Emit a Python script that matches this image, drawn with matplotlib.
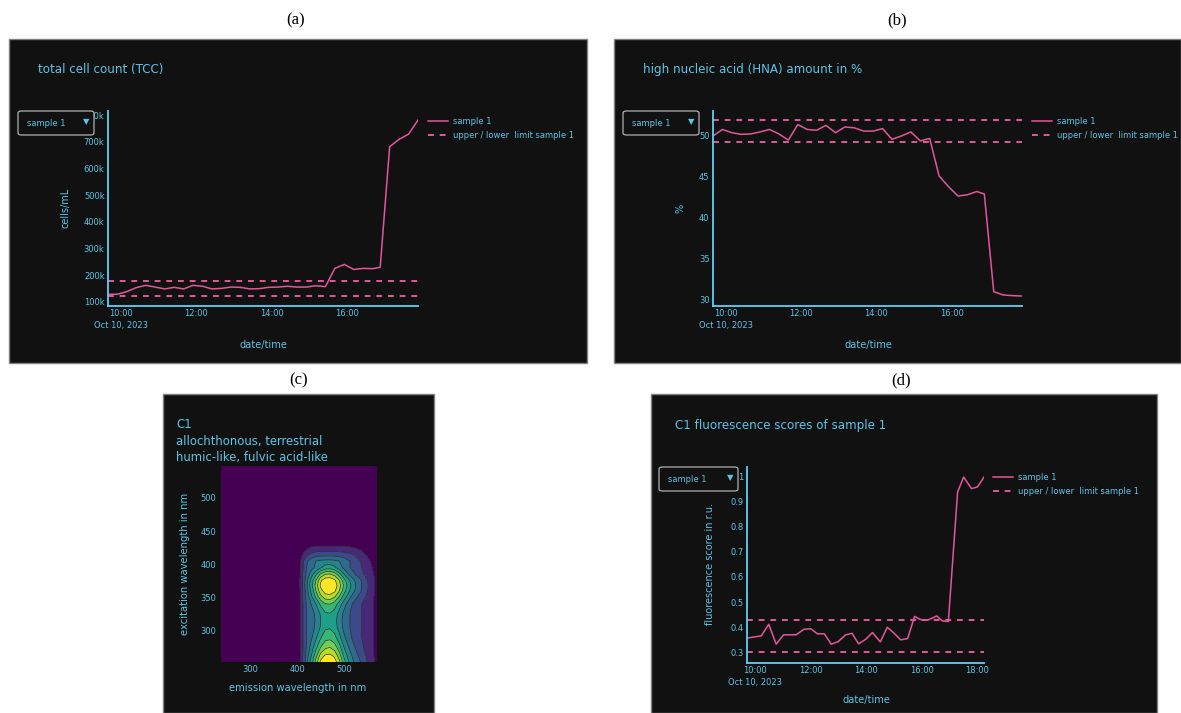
import numpy as np
import pandas as pd
import matplotlib
matplotlib.use("Agg")
import matplotlib.pyplot as plt
from matplotlib.patches import Rectangle, FancyBboxPatch

# colours
BG = "#111111"
TXT = "#5ec4e6"
AXC = "#5fd0f5"
PINK = "#e2579a"

# ---- data ----
# panels (a) and (b) share the same sampling times (Oct 10, 2023)
ab_times = ["09:40", "09:55", "10:10", "10:25", "10:40", "10:55", "11:10", "11:25",
            "11:40", "11:55", "12:10", "12:25", "12:40", "12:55", "13:10", "13:25",
            "13:40", "13:55", "14:10", "14:25", "14:40", "14:55", "15:10", "15:25",
            "15:40", "15:55", "16:10", "16:25", "16:40", "16:52", "17:07", "17:22",
            "17:37", "17:52"]
tcc_k = [129, 129, 139, 154, 162.5, 156, 149, 155, 149, 162.5, 159, 149, 151, 156,
         155, 149, 150, 155, 156, 159, 156, 156, 161, 157.5, 226, 241, 222, 226,
         225, 230, 682, 710, 729, 782]
tcc_limits_k = [179, 122.5]
hna_pct = [50.0, 50.8, 50.4, 50.2, 50.25, 50.5, 50.8, 50.25, 49.5, 51.4, 50.8, 50.7,
           51.3, 50.4, 51.1, 51.0, 50.6, 50.6, 50.9, 49.6, 50.0, 50.5, 49.4, 49.7,
           45.1, 43.8, 42.65, 42.8, 43.2, 42.9, 30.94, 30.53, 30.45, 30.4]
hna_limits = [52.0, 49.22]

c1_times = ["09:42", "10:13", "10:29", "10:45", "11:01", "11:28", "11:45", "12:00",
            "12:14", "12:29", "12:44", "12:59", "13:15", "13:29", "13:43", "13:59",
            "14:13", "14:30", "14:45", "15:00", "15:14", "15:29", "15:44", "15:59",
            "16:13", "16:32", "16:44", "16:57", "17:17", "17:30", "17:47", "18:00",
            "18:14"]
c1_score = [0.357, 0.366, 0.412, 0.333, 0.370, 0.370, 0.392, 0.394, 0.374, 0.374,
            0.333, 0.343, 0.370, 0.376, 0.334, 0.353, 0.379, 0.342, 0.400, 0.376,
            0.350, 0.355, 0.443, 0.429, 0.429, 0.445, 0.425, 0.423, 0.938, 0.997,
            0.951, 0.958, 0.997]
c1_limits = [0.43, 0.30]

# EEM of component C1 (rows = excitation)
em_nm = [240, 400, 406, 412, 420, 430, 440, 450, 460, 470, 480, 490, 500, 510, 520,
         535, 550, 565, 570]
ex_nm = [250, 262, 275, 290, 305, 315, 325, 340, 352, 360, 368, 376, 385, 395, 405,
         415, 425, 435, 550]
c1_eem = [
    [0, 0, .10, .21, .38, .57, .76, .95, 1.0, 1.02, .97, .85, .66, .52, .42, .31, .20, .10, .07],
    [0, 0, .09, .20, .34, .50, .67, .85, .92, .93, .88, .75, .58, .46, .37, .27, .18, .09, .06],
    [0, 0, .09, .19, .31, .44, .57, .70, .78, .80, .75, .64, .50, .40, .32, .23, .16, .09, .06],
    [0, 0, .09, .19, .30, .38, .48, .59, .66, .67, .63, .53, .42, .34, .27, .21, .15, .09, .06],
    [0, 0, .09, .19, .30, .36, .42, .51, .58, .59, .55, .46, .37, .31, .27, .21, .15, .09, .06],
    [0, 0, .09, .19, .30, .36, .41, .50, .56, .57, .53, .45, .36, .31, .27, .21, .15, .09, .06],
    [0, 0, .09, .19, .30, .36, .42, .51, .58, .59, .55, .46, .37, .31, .27, .21, .15, .09, .06],
    [0, 0, .09, .19, .31, .40, .50, .62, .69, .70, .65, .55, .44, .35, .28, .21, .15, .09, .06],
    [0, 0, .09, .20, .33, .48, .63, .78, .86, .87, .82, .70, .56, .45, .36, .27, .18, .09, .06],
    [0, 0, .09, .20, .35, .52, .70, .86, .95, .96, .92, .80, .64, .52, .42, .31, .20, .10, .07],
    [0, 0, .10, .22, .38, .56, .74, .92, 1.0, 1.0, .96, .84, .68, .55, .44, .32, .21, .10, .07],
    [0, 0, .10, .21, .36, .53, .70, .88, .96, .97, .92, .80, .64, .52, .42, .31, .20, .10, .07],
    [0, 0, .09, .20, .32, .45, .58, .72, .80, .81, .76, .64, .50, .40, .32, .24, .16, .09, .06],
    [0, 0, .09, .19, .30, .37, .42, .49, .55, .56, .52, .45, .37, .31, .27, .21, .15, .07, .05],
    [0, 0, .08, .18, .28, .35, .40, .42, .43, .43, .42, .40, .36, .31, .27, .20, .12, .06, .04],
    [0, 0, .04, .10, .17, .22, .25, .26, .26, .26, .26, .25, .24, .22, .20, .14, .08, .03, .02],
    [0, 0, .01, .03, .07, .11, .12, .12, .12, .12, .12, .12, .12, .11, .10, .08, .03, .01, 0],
    [0, 0, 0, .01, .02, .03, .04, .04, .04, .04, .04, .04, .04, .03, .03, .02, 0, 0, 0],
    [0] * 19,
]

tick_times = ["10:00", "12:00", "14:00", "16:00", "18:00"]
date_label = "Oct 10, 2023"

W, H = 1181, 713
fig = plt.figure(figsize=(W / 100, H / 100), dpi=100)
fig.patch.set_facecolor("white")
plt.rcParams["font.family"] = "DejaVu Sans"


def to_dt(lst):
    return pd.to_datetime(["2023-10-10 " + t for t in lst])


def px_ax(l, t, r, b):
    return fig.add_axes([l / W, 1 - b / H, (r - l) / W, (b - t) / H])


def panel(l, t, r, b):
    fig.add_artist(Rectangle((l / W, 1 - b / H), (r - l) / W, (b - t) / H,
                             transform=fig.transFigure, facecolor=BG,
                             edgecolor="#808080", lw=1, zorder=-5))


def ftext(x, y, s, **kw):
    kw.setdefault("color", TXT)
    kw.setdefault("va", "center")
    fig.text(x / W, 1 - y / H, s, **kw)


def dropdown(l, t, r, b):
    fig.add_artist(FancyBboxPatch((l / W, 1 - b / H), (r - l) / W, (b - t) / H,
                                  boxstyle="round,pad=0,rounding_size=0.003",
                                  transform=fig.transFigure, facecolor=BG,
                                  edgecolor="#b0b0b0", lw=0.9, zorder=5))
    ftext(l + 9, (t + b) / 2, "sample 1", fontsize=6, zorder=6)
    ftext(r - 8, (t + b) / 2 - 1, "\u25bc", fontsize=6, ha="center", zorder=6)


def style_ax(ax):
    ax.set_facecolor(BG)
    for s in ["top", "right"]:
        ax.spines[s].set_visible(False)
    for s in ["left", "bottom"]:
        ax.spines[s].set_color(AXC)
        ax.spines[s].set_linewidth(1.3)
    ax.tick_params(length=0, colors=TXT, labelsize=6, pad=2.5)


def time_axis(ax, ticks):
    tt = to_dt(ticks)
    ax.set_xticks(tt)
    labels = [ticks[0] + "\n" + date_label] + ticks[1:]
    ax.set_xticklabels(labels)
    for lab in ax.get_xticklabels():
        lab.set_linespacing(1.35)
        lab.set_verticalalignment("top")


def series_plot(ax, times, vals, limits, legend_xy):
    t = to_dt(times)
    ax.plot(t, vals, color=PINK, lw=1.1, label="sample 1")
    ax.plot([t[0], t[-1]], [limits[0]] * 2, color=PINK, lw=1.4, dashes=(3, 3),
            label="upper / lower  limit sample 1")
    ax.plot([t[0], t[-1]], [limits[1]] * 2, color=PINK, lw=1.4, dashes=(3, 3))
    ax.set_xlim(t[0], t[-1])
    leg = ax.legend(loc="upper left", bbox_to_anchor=(legend_xy[0] / W, 1 - legend_xy[1] / H),
                    bbox_transform=fig.transFigure, frameon=False, fontsize=6,
                    handlelength=2.4, handletextpad=0.6, labelspacing=0.55,
                    borderpad=0, borderaxespad=0)
    for txt in leg.get_texts():
        txt.set_color(TXT)


# ---------- (a) total cell count ----------
panel(9, 39, 587, 363)
ax = px_ax(108, 111, 418, 306)
style_ax(ax)
series_plot(ax, ab_times, np.array(tcc_k) * 1000, np.array(tcc_limits_k) * 1000, (428, 117))
ax.set_ylim(85e3, 816e3)
yt = np.arange(1, 9) * 100e3
ax.set_yticks(yt)
ax.set_yticklabels([f"{int(v / 1000)}k" for v in yt])
time_axis(ax, tick_times[:4])
ftext(38, 70, "total cell count (TCC)", fontsize=8.6)
ftext(65, 208, "cells/mL", fontsize=7, rotation=90, ha="center")
ftext(263, 345, "date/time", fontsize=7.1, ha="center")
dropdown(18, 111, 94, 135)

# ---------- (b) HNA ----------
panel(614, 39, 1181, 363)
ax = px_ax(713, 111, 1022, 306)
style_ax(ax)
series_plot(ax, ab_times, hna_pct, hna_limits, (1032, 117))
ax.set_ylim(29.18, 53.06)
ax.set_yticks([30, 35, 40, 45, 50])
time_axis(ax, tick_times[:4])
ftext(643, 70, "high nucleic acid (HNA) amount in %", fontsize=8.6)
ftext(680, 208, "%", fontsize=7, rotation=90, ha="center")
ftext(868, 345, "date/time", fontsize=7.1, ha="center")
dropdown(623, 111, 699, 135)

# ---------- (c) C1 EEM ----------
panel(163, 394, 434, 713)
ax = px_ax(220, 466, 377, 662)
style_ax(ax)
ax.spines["left"].set_visible(False)
ax.spines["bottom"].set_visible(False)
levels = [0, 0.1, 0.2, 0.3, 0.4, 0.5, 0.6, 0.7, 0.8, 0.9, 1.1]
band_colors = [plt.cm.viridis(i / 9) for i in range(10)]
ax.contourf(em_nm, ex_nm, c1_eem, levels=levels, colors=band_colors)
ax.contour(em_nm, ex_nm, c1_eem, levels=levels[1:-1], colors="#2a2a2a", linewidths=0.5)
ax.set_xlim(236, 570)
ax.set_ylim(253, 548)
ax.set_xticks([300, 400, 500])
ax.set_yticks([300, 350, 400, 450, 500])
ftext(176, 425, "C1", fontsize=8.4)
ftext(176, 442, "allochthonous, terrestrial", fontsize=8.4)
ftext(176, 458, "humic-like, fulvic acid-like", fontsize=8.4)
ftext(185, 564, "excitation wavelength in nm", fontsize=7.2, rotation=90, ha="center")
ftext(298, 688, "emission wavelength in nm", fontsize=7.2, ha="center")

# ---------- (d) C1 fluorescence scores ----------
panel(651, 394, 1157, 713)
ax = px_ax(747, 467, 984, 663)
style_ax(ax)
series_plot(ax, c1_times, c1_score, c1_limits, (993, 473))
ax.set_ylim(0.258, 1.037)
ax.set_yticks([0.3, 0.4, 0.5, 0.6, 0.7, 0.8, 0.9, 1.0])
ax.set_yticklabels(["0.3", "0.4", "0.5", "0.6", "0.7", "0.8", "0.9", "1"])
time_axis(ax, tick_times)
ftext(675, 426, "C1 fluorescence scores of sample 1", fontsize=8.6)
ftext(710, 564, "fluorescence score in r.u.", fontsize=7, rotation=90, ha="center")
ftext(866, 700, "date/time", fontsize=7.1, ha="center")
dropdown(659, 467, 738, 491)

# panel letters
for x, y, s in [(296, 20, "(a)"), (897, 20, "(b)"), (299, 380, "(c)"), (901, 380, "(d)")]:
    ftext(x, y, s, fontsize=12, ha="center", color="black", family="Liberation Serif")

fig.savefig("out.png", dpi=100, facecolor="white")
